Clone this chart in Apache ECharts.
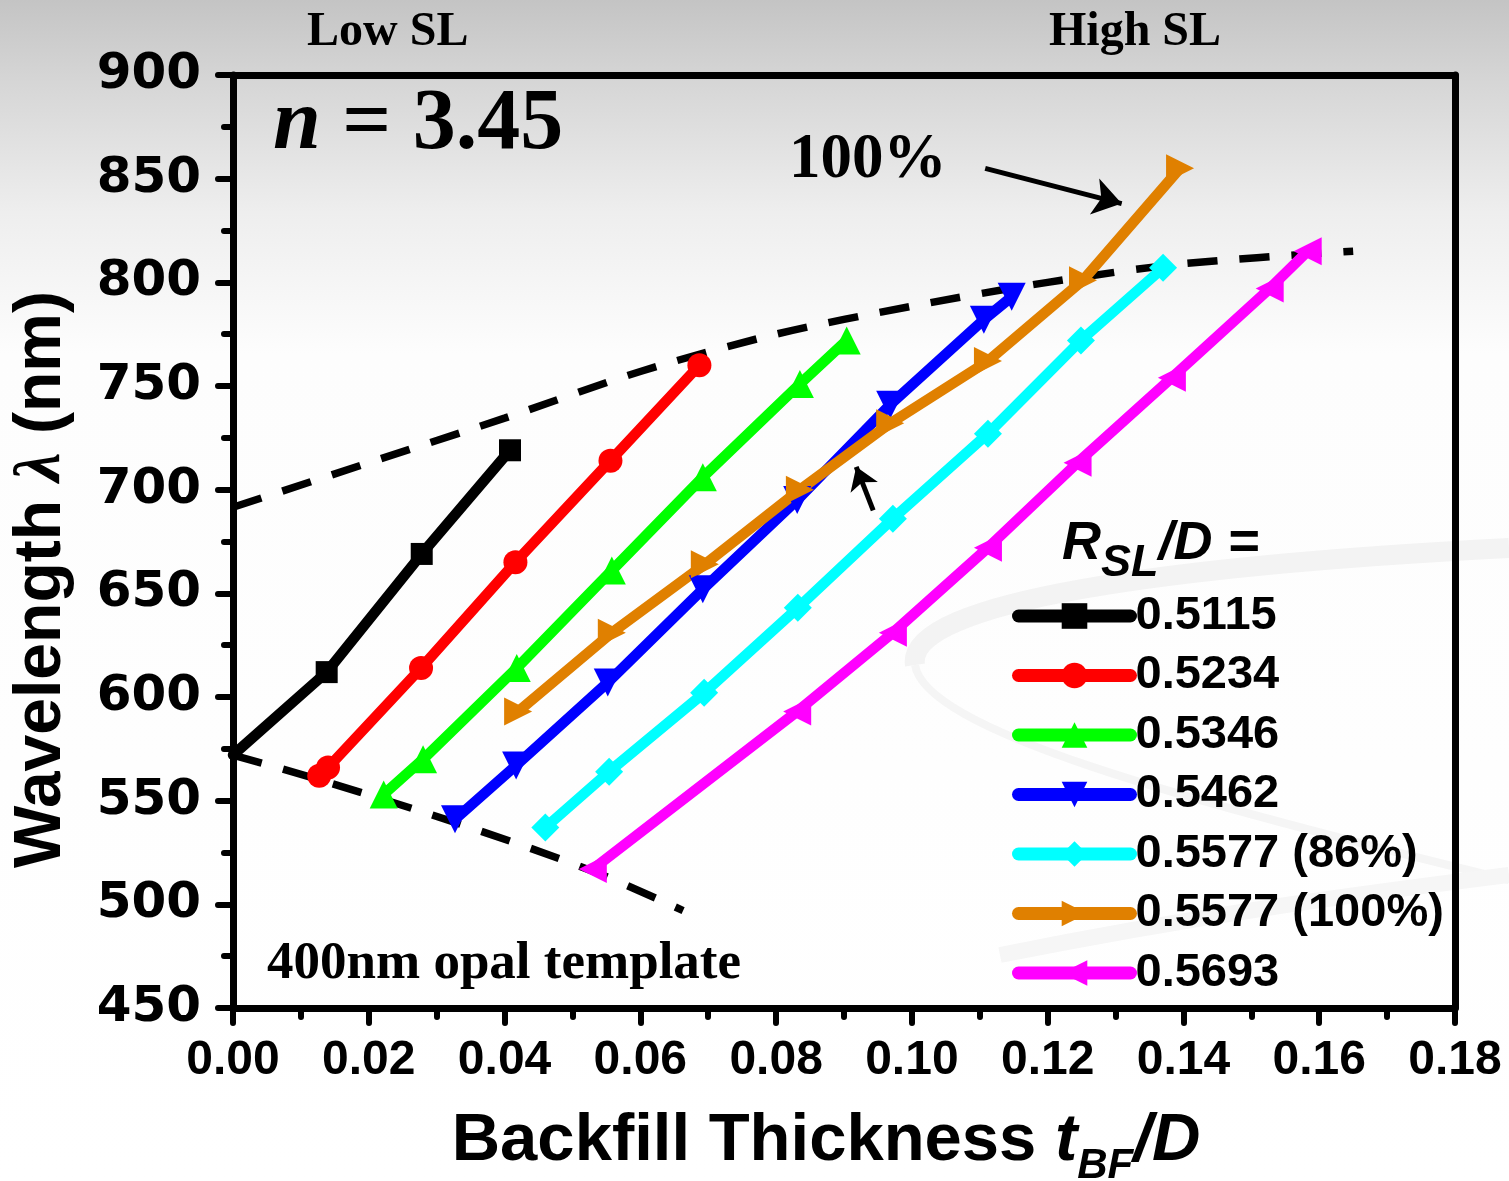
<!DOCTYPE html>
<html>
<head>
<meta charset="utf-8">
<script src="https://cdn.jsdelivr.net/npm/echarts@6/dist/echarts.min.js"></script>
<style>
  html, body { margin: 0; padding: 0; background: #fff; }
  #chart { width: 1509px; height: 1181px; }
</style>
</head>
<body>
<div id="chart"></div>
<script>
// Stop-band wavelength (nm) versus normalised backfill thickness t_BF/D,
// one curve per normalised shell radius R_SL/D (n = 3.45, 400 nm opal template).

const seriesNames = ['0.5115', '0.5234', '0.5346', '0.5462', '0.5577 (86%)', '0.5577 (100%)', '0.5693'];
const seriesColors = ['#000000', '#ff0000', '#00ff00', '#0000ff', '#00ffff', '#e08000', '#ff00ff'];

const t5115 = [0, 0.0138, 0.0278, 0.0408];
const w5115 = [572, 612, 669, 719];

const t5234 = [0.0127, 0.0140, 0.0277, 0.0416, 0.0556, 0.0687];
const w5234 = [562, 566, 614, 665, 714, 760];

const t5346 = [0.0222, 0.0280, 0.0418, 0.0558, 0.0692, 0.0835, 0.0904];
const w5346 = [553, 570, 614, 661, 706, 751, 772];

const t5462 = [0.0327, 0.0417, 0.0552, 0.0692, 0.0831, 0.0968, 0.1106, 0.1147];
const w5462 = [541, 567, 607, 652, 695, 741, 782, 793];

const t5577a = [0.0460, 0.0554, 0.0694, 0.0832, 0.0972, 0.1112, 0.1249, 0.1370];
const w5577a = [537, 564, 602, 643, 686, 727, 772, 807];

const t5577b = [0.0420, 0.0558, 0.0695, 0.0835, 0.0968, 0.1112, 0.1252, 0.1395];
const w5577b = [593, 631, 664, 700, 732, 762, 801, 855];

const t5693 = [0.0530, 0.0831, 0.0972, 0.1112, 0.1244, 0.1383, 0.1527, 0.1583];
const w5693 = [517, 593, 631, 672, 713, 754, 797, 815];

// dashed envelopes: high-SL limit (upper) and low-SL limit (lower)
const tUpper = [0, 0.02, 0.04, 0.06, 0.08, 0.10, 0.12, 0.14, 0.165];
const wUpper = [691.5, 713, 734.5, 757, 775, 788.5, 800, 809, 815];
const tLower = [0, 0.0128, 0.0327, 0.053, 0.0663];
const wLower = [572, 560, 539.5, 516, 497];

// annotation arrows (data coordinates: [t, wavelength])
const arrow100 = [[0.1108, 855], [0.1309, 838]];
const arrowCross = [[0.0943, 690], [0.0918, 711]];

const xMin = 0, xMax = 0.18, xStep = 0.02;
const yMin = 450, yMax = 900, yStep = 50;

const zip = (xs, ys) => xs.map((x, i) => [x, ys[i]]);

function curve(idx, xs, ys, symbol, rotate, size) {
  const color = seriesColors[idx];
  return {
    name: seriesNames[idx],
    type: 'line',
    data: zip(xs, ys),
    symbol: symbol,
    symbolRotate: rotate,
    symbolSize: size,
    showAllSymbol: true,
    clip: false,
    z: 4,
    lineStyle: { color: color, width: 10.5, cap: 'round', join: 'round' },
    itemStyle: { color: color, borderWidth: 0 },
    emphasis: { disabled: true }
  };
}

const blackCurve = curve(0, t5115, w5115, 'rect', 0, 22);
blackCurve.data[0] = { value: blackCurve.data[0], symbol: 'none' };

const arrowLine = (pts, size) => ({
  silent: true,
  symbol: ['none', 'arrow'],
  symbolSize: size,
  label: { show: false },
  lineStyle: { color: '#000', width: 5, type: 'solid', opacity: 1 },
  itemStyle: { color: '#000' },
  data: [[
    { coord: pts[0], symbol: 'none' },
    { coord: pts[1], symbol: 'arrow', symbolSize: size }
  ]]
});

const dashed = (name, xs, ys, arrowPts, arrowSize) => ({
  name: name,
  type: 'line',
  data: zip(xs, ys),
  symbol: 'none',
  smooth: 0.3,
  z: 3,
  clip: false,
  lineStyle: { color: '#000', width: 7.5, type: [30, 22] },
  emphasis: { disabled: true },
  markLine: arrowLine(arrowPts, arrowSize)
});

const fontSans = '"Liberation Sans", Arial, sans-serif';
const fontSerif = '"Liberation Serif", "Times New Roman", serif';
const fontWide = '"DejaVu Sans", Verdana, sans-serif';

const chart = echarts.init(document.getElementById('chart'), null, { renderer: 'canvas' });

const option = {
  animation: false,
  grid: { left: 233, top: 75, width: 1222, height: 933, containLabel: false, outerBoundsMode: 'none' },
  xAxis: [{
    type: 'value', min: xMin, max: xMax, interval: xStep,
    position: 'bottom',
    axisLine: { show: true, onZero: false, lineStyle: { color: '#000', width: 7 } },
    axisTick: { show: true, inside: false, length: 15, lineStyle: { color: '#000', width: 6, cap: 'round' } },
    minorTick: { show: true, splitNumber: 2, length: 9, lineStyle: { color: '#000', width: 6, cap: 'round' } },
    splitLine: { show: false },
    axisLabel: {
      margin: 29, color: '#000', fontFamily: fontSans, fontWeight: 'bold', fontSize: 48,
      formatter: v => v.toFixed(2)
    },
    name: 'Backfill Thickness {t|t}{s|BF}{d|/D}',
    nameLocation: 'middle',
    nameGap: 100,
    nameTextStyle: {
      color: '#000', fontFamily: fontSans, fontWeight: 'bold', fontSize: 67, padding: [0, 36, 0, 0],
      rich: {
        t: { fontFamily: fontSans, fontWeight: 'bold', fontStyle: 'italic', fontSize: 67, color: '#000' },
        s: { fontFamily: fontSans, fontWeight: 'bold', fontStyle: 'italic', fontSize: 42, lineHeight: 42, padding: [50, 0, 0, 0], color: '#000' },
        d: { fontFamily: fontSans, fontWeight: 'bold', fontStyle: 'italic', fontSize: 67, color: '#000' }
      }
    }
  }, {
    type: 'value', min: xMin, max: xMax, interval: xStep,
    position: 'top',
    axisLine: { show: true, onZero: false, lineStyle: { color: '#000', width: 7 } },
    axisTick: { show: false }, axisLabel: { show: false }, splitLine: { show: false }
  }],
  yAxis: [{
    type: 'value', min: yMin, max: yMax, interval: yStep,
    position: 'left',
    axisLine: { show: true, onZero: false, lineStyle: { color: '#000', width: 7 } },
    axisTick: { show: true, inside: false, length: 15, lineStyle: { color: '#000', width: 6, cap: 'round' } },
    minorTick: { show: true, splitNumber: 2, length: 9, lineStyle: { color: '#000', width: 6, cap: 'round' } },
    splitLine: { show: false },
    axisLabel: { margin: 32, color: '#000', fontFamily: fontWide, fontWeight: 'bold', fontSize: 50 },
    name: 'Wavelength {l|λ} (nm)',
    nameLocation: 'middle',
    nameRotate: 90,
    nameGap: 158,
    nameTextStyle: {
      color: '#000', fontFamily: fontSans, fontWeight: 'bold', fontSize: 66, padding: [0, 76, 0, 0],
      rich: {
        l: { fontFamily: fontSerif, fontWeight: 'bold', fontStyle: 'italic', fontSize: 66, color: '#000' }
      }
    }
  }, {
    type: 'value', min: yMin, max: yMax, interval: yStep,
    position: 'right',
    axisLine: { show: true, onZero: false, lineStyle: { color: '#000', width: 7 } },
    axisTick: { show: false }, axisLabel: { show: false }, splitLine: { show: false }
  }],
  legend: {
    data: seriesNames,
    orient: 'vertical',
    left: 1012,
    top: 591,
    padding: 0,
    itemWidth: 112,
    itemHeight: 32,
    itemGap: 9.5,
    symbolRotate: 'inherit',
    selectedMode: false,
    lineStyle: { width: 13, cap: 'round' },
    itemStyle: { borderWidth: 0 },
    textStyle: { color: '#000', fontFamily: fontSans, fontWeight: 'bold', fontSize: 47, lineHeight: 50 }
  },
  graphic: [
    {
      type: 'rect', silent: true, z: -100,
      shape: { x: 0, y: 0, width: 1509, height: 1181 },
      style: {
        fill: new echarts.graphic.LinearGradient(0, 0, 0, 1, [
          { offset: 0, color: '#c4c4c4' },
          { offset: 0.07, color: '#d6d6d6' },
          { offset: 0.18, color: '#eeeeee' },
          { offset: 0.3, color: '#fdfdfd' },
          { offset: 1, color: '#ffffff' }
        ])
      }
    },
    {
      type: 'bezierCurve', silent: true, z: -90,
      shape: { x1: 1509, y1: 548, cpx1: 1180, cpy1: 565, cpx2: 905, cpy2: 600, x2: 915, y2: 665 },
      style: { stroke: '#f3f3f3', lineWidth: 20, fill: null }
    },
    {
      type: 'bezierCurve', silent: true, z: -90,
      shape: { x1: 915, y1: 665, cpx1: 925, cpy1: 730, cpx2: 1180, cpy2: 800, x2: 1509, y2: 880 },
      style: { stroke: '#f5f5f5', lineWidth: 8, fill: null }
    },
    {
      type: 'bezierCurve', silent: true, z: -90,
      shape: { x1: 1000, y1: 955, cpx1: 1200, cpy1: 915, cpx2: 1350, cpy2: 895, x2: 1509, y2: 875 },
      style: { stroke: '#f6f6f6', lineWidth: 16, fill: null }
    },
    {
      type: 'text', silent: true, z: 10, x: 307, y: 33,
      style: { text: 'Low SL', fill: '#000', font: 'bold 48px ' + fontSerif, verticalAlign: 'middle' }
    },
    {
      type: 'text', silent: true, z: 10, x: 1049, y: 33,
      style: { text: 'High SL', fill: '#000', font: 'bold 48px ' + fontSerif, verticalAlign: 'middle' }
    },
    {
      type: 'text', silent: true, z: 10, x: 273, y: 126,
      style: {
        text: '{i|n} = 3.45', fill: '#000', fontFamily: fontSerif, fontWeight: 'bold', fontSize: 86, verticalAlign: 'middle',
        rich: { i: { fontFamily: fontSerif, fontWeight: 'bold', fontStyle: 'italic', fontSize: 86, fill: '#000' } }
      }
    },
    {
      type: 'text', silent: true, z: 10, x: 789, y: 161,
      style: { text: '100%', fill: '#000', font: 'bold 63px ' + fontSerif, verticalAlign: 'middle' }
    },
    {
      type: 'text', silent: true, z: 10, x: 267, y: 964,
      style: { text: '400nm opal template', fill: '#000', font: 'bold 53px ' + fontSerif, verticalAlign: 'middle' }
    },
    {
      type: 'text', silent: true, z: 10, x: 1062, y: 544,
      style: {
        text: '{r|R}{s|SL}{r|/D =}', fill: '#000', verticalAlign: 'middle',
        rich: {
          r: { fontFamily: fontSans, fontWeight: 'bold', fontStyle: 'italic', fontSize: 54, fill: '#000' },
          s: { fontFamily: fontSans, fontWeight: 'bold', fontStyle: 'italic', fontSize: 45, lineHeight: 45, padding: [40, 0, 0, 0], fill: '#000' }
        }
      }
    }
  ],
  series: [
    dashed('high-SL limit', tUpper, wUpper, arrow100, 28),
    dashed('low-SL limit', tLower, wLower, arrowCross, 22),
    blackCurve,
    curve(1, t5234, w5234, 'circle', 0, 24),
    curve(2, t5346, w5346, 'triangle', 0, 28),
    curve(3, t5462, w5462, 'triangle', 180, 28),
    curve(4, t5577a, w5577a, 'diamond', 0, 28),
    curve(5, t5577b, w5577b, 'triangle', -90, 28),
    curve(6, t5693, w5693, 'triangle', 90, 28)
  ]
};

chart.setOption(option);
</script>
</body>
</html>
